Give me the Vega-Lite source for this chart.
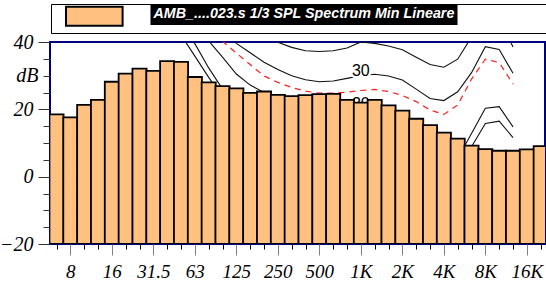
{
  "$schema": "https://vega.github.io/schema/vega-lite/v6.json",
  "width": 495,
  "height": 202,
  "autosize": {"type": "none"},
  "padding": {"left": 50, "top": 42, "right": 1, "bottom": 40},
  "background": "white",
  "config": {
    "view": {"stroke": "#000080", "strokeWidth": 2},
    "axis": {"grid": false, "domain": false}
  },
  "datasets": {
    "bars": [
      {"i": 0, "hz": "6.3", "db": 18.5}, {"i": 1, "hz": "8", "db": 17.6}, {"i": 2, "hz": "10", "db": 21.3},
      {"i": 3, "hz": "12.5", "db": 22.8}, {"i": 4, "hz": "16", "db": 28.2}, {"i": 5, "hz": "20", "db": 30.6},
      {"i": 6, "hz": "25", "db": 32.1}, {"i": 7, "hz": "31.5", "db": 31.4}, {"i": 8, "hz": "40", "db": 34.3},
      {"i": 9, "hz": "50", "db": 34.1}, {"i": 10, "hz": "63", "db": 29.6}, {"i": 11, "hz": "80", "db": 28.0},
      {"i": 12, "hz": "100", "db": 26.9}, {"i": 13, "hz": "125", "db": 26.2}, {"i": 14, "hz": "160", "db": 24.9},
      {"i": 15, "hz": "200", "db": 25.3}, {"i": 16, "hz": "250", "db": 24.3}, {"i": 17, "hz": "315", "db": 23.9},
      {"i": 18, "hz": "400", "db": 24.2}, {"i": 19, "hz": "500", "db": 24.5}, {"i": 20, "hz": "630", "db": 24.6},
      {"i": 21, "hz": "800", "db": 22.8}, {"i": 22, "hz": "1k", "db": 22.0}, {"i": 23, "hz": "1.25k", "db": 22.8},
      {"i": 24, "hz": "1.6k", "db": 21.2}, {"i": 25, "hz": "2k", "db": 19.6}, {"i": 26, "hz": "2.5k", "db": 17.2},
      {"i": 27, "hz": "3.15k", "db": 15.3}, {"i": 28, "hz": "4k", "db": 13.1}, {"i": 29, "hz": "5k", "db": 11.3},
      {"i": 30, "hz": "6.3k", "db": 9.2}, {"i": 31, "hz": "8k", "db": 8.2}, {"i": 32, "hz": "10k", "db": 7.7},
      {"i": 33, "hz": "12.5k", "db": 7.7}, {"i": 34, "hz": "16k", "db": 8.1}, {"i": 35, "hz": "20k", "db": 9.1}
    ],
    "curves": [
      {"c":"A","i":5,"db":90},{"c":"A","i":6,"db":84},{"c":"A","i":7,"db":78},{"c":"A","i":8,"db":72},{"c":"A","i":9,"db":66},{"c":"A","i":10,"db":61},{"c":"A","i":11,"db":56},{"c":"A","i":12,"db":52},{"c":"A","i":13,"db":48.5},{"c":"A","i":14,"db":45.5},{"c":"A","i":15,"db":42.8},{"c":"A","i":16,"db":39.9},{"c":"A","i":17,"db":38.4},{"c":"A","i":18,"db":37.4},{"c":"A","i":19,"db":37.2},{"c":"A","i":20,"db":37.4},{"c":"A","i":21,"db":38.2},{"c":"A","i":22,"db":40.0},{"c":"A","i":23,"db":39.6},{"c":"A","i":24,"db":38.8},{"c":"A","i":25,"db":37.7},{"c":"A","i":26,"db":35.5},{"c":"A","i":27,"db":33.3},{"c":"A","i":28,"db":32.5},{"c":"A","i":29,"db":34.9},{"c":"A","i":30,"db":41.5},{"c":"A","i":31,"db":48},{"c":"A","i":32,"db":47},{"c":"A","i":33,"db":38.5},
      {"c":"B","i":5,"db":85},{"c":"B","i":6,"db":78},{"c":"B","i":7,"db":72},{"c":"B","i":8,"db":65},{"c":"B","i":9,"db":59},{"c":"B","i":10,"db":54},{"c":"B","i":11,"db":49},{"c":"B","i":12,"db":44},{"c":"B","i":13,"db":39.6},{"c":"B","i":14,"db":36.8},{"c":"B","i":15,"db":34.0},{"c":"B","i":16,"db":31.8},{"c":"B","i":17,"db":30.0},{"c":"B","i":18,"db":28.8},{"c":"B","i":19,"db":28.2},{"c":"B","i":20,"db":28.4},{"c":"B","i":21,"db":29.2},{"c":"B","i":22,"db":30.0},{"c":"B","i":23,"db":30.4},{"c":"B","i":24,"db":29.9},{"c":"B","i":25,"db":28.7},{"c":"B","i":26,"db":26.0},{"c":"B","i":27,"db":23.2},{"c":"B","i":28,"db":22.6},{"c":"B","i":29,"db":25.2},{"c":"B","i":30,"db":30.9},{"c":"B","i":31,"db":38.6},{"c":"B","i":32,"db":37.8},{"c":"B","i":33,"db":30.7},
      {"c":"R","i":5,"db":80},{"c":"R","i":6,"db":73},{"c":"R","i":7,"db":67},{"c":"R","i":8,"db":61},{"c":"R","i":9,"db":55},{"c":"R","i":10,"db":50},{"c":"R","i":11,"db":45},{"c":"R","i":12,"db":40.2},{"c":"R","i":13,"db":36.7},{"c":"R","i":14,"db":33.3},{"c":"R","i":15,"db":29.9},{"c":"R","i":16,"db":28.0},{"c":"R","i":17,"db":26.5},{"c":"R","i":18,"db":25.4},{"c":"R","i":19,"db":24.8},{"c":"R","i":20,"db":24.8},{"c":"R","i":21,"db":25.1},{"c":"R","i":22,"db":25.6},{"c":"R","i":23,"db":25.9},{"c":"R","i":24,"db":25.3},{"c":"R","i":25,"db":24.1},{"c":"R","i":26,"db":22.3},{"c":"R","i":27,"db":19.8},{"c":"R","i":28,"db":18.5},{"c":"R","i":29,"db":21.3},{"c":"R","i":30,"db":29.0},{"c":"R","i":31,"db":34.9},{"c":"R","i":32,"db":33.9},{"c":"R","i":33,"db":27.5},
      {"c":"C","i":5,"db":75},{"c":"C","i":6,"db":68},{"c":"C","i":7,"db":61},{"c":"C","i":8,"db":55},{"c":"C","i":9,"db":50},{"c":"C","i":10,"db":45},{"c":"C","i":11,"db":40.3},{"c":"C","i":12,"db":35.5},{"c":"C","i":13,"db":30.5},{"c":"C","i":14,"db":27.2},{"c":"C","i":15,"db":25.0},{"c":"C","i":16,"db":23.3},{"c":"C","i":17,"db":21.8},{"c":"C","i":18,"db":20.8},{"c":"C","i":19,"db":20.2},{"c":"C","i":20,"db":20.0},{"c":"C","i":21,"db":20.0},{"c":"C","i":22,"db":20.0},{"c":"C","i":23,"db":19.5},{"c":"C","i":24,"db":18.0},{"c":"C","i":25,"db":16.0},{"c":"C","i":26,"db":13.0},{"c":"C","i":27,"db":10.0},{"c":"C","i":28,"db":7.5},{"c":"C","i":29,"db":5.5},{"c":"C","i":30,"db":12.8},{"c":"C","i":31,"db":20.3},{"c":"C","i":32,"db":20.8},{"c":"C","i":33,"db":14.8},
      {"c":"D","i":5,"db":70},{"c":"D","i":6,"db":62},{"c":"D","i":7,"db":55},{"c":"D","i":8,"db":49},{"c":"D","i":9,"db":44},{"c":"D","i":10,"db":39.5},{"c":"D","i":11,"db":32.3},{"c":"D","i":12,"db":26.0},{"c":"D","i":13,"db":20},{"c":"D","i":14,"db":16},{"c":"D","i":15,"db":13},{"c":"D","i":16,"db":11.5},{"c":"D","i":17,"db":10.5},{"c":"D","i":18,"db":10},{"c":"D","i":19,"db":10},{"c":"D","i":20,"db":10},{"c":"D","i":21,"db":10},{"c":"D","i":22,"db":10},{"c":"D","i":23,"db":9.5},{"c":"D","i":24,"db":8.5},{"c":"D","i":25,"db":7},{"c":"D","i":26,"db":5},{"c":"D","i":27,"db":3},{"c":"D","i":28,"db":2},{"c":"D","i":29,"db":2.5},{"c":"D","i":30,"db":8.9},{"c":"D","i":31,"db":15.8},{"c":"D","i":32,"db":16.5},{"c":"D","i":33,"db":11.6},
      {"c":"E","i":5,"db":66},{"c":"E","i":6,"db":58},{"c":"E","i":7,"db":51},{"c":"E","i":8,"db":46},{"c":"E","i":9,"db":42.1},{"c":"E","i":10,"db":35.8},{"c":"E","i":11,"db":29.5},{"c":"E","i":12,"db":23.5},{"c":"E","i":13,"db":18},{"c":"E","i":14,"db":13},{"c":"E","i":15,"db":9},{"c":"E","i":16,"db":6},{"c":"E","i":17,"db":4},{"c":"E","i":18,"db":2.5},{"c":"E","i":19,"db":1.5},{"c":"E","i":20,"db":1},{"c":"E","i":21,"db":0.5},{"c":"E","i":22,"db":0},{"c":"E","i":23,"db":-0.5},{"c":"E","i":24,"db":-1},{"c":"E","i":25,"db":-2},{"c":"E","i":26,"db":-3},{"c":"E","i":27,"db":-4},{"c":"E","i":28,"db":-4},{"c":"E","i":29,"db":-2},{"c":"E","i":30,"db":3},{"c":"E","i":31,"db":7},{"c":"E","i":32,"db":7},{"c":"E","i":33,"db":6}
    ],
    "labels": [
      {"i": 22, "db": 30, "t": "30"},
      {"i": 22, "db": 20, "t": "20"}
    ]
  },
  "encoding": {
    "x": {
      "field": "i", "type": "quantitative",
      "scale": {"domain": [-0.11, 34.95], "nice": false, "zero": false},
      "axis": {
        "title": null,
        "values": [0,1,2,3,4,5,6,7,8,9,10,11,12,13,14,15,16,17,18,19,20,21,22,23,24,25,26,27,28,29,30,31,32,33,34,35],
        "tickSize": {"condition": {"test": "datum.value % 3 == 1", "value": 11}, "value": 5},
        "tickColor": {"condition": {"test": "datum.value % 3 == 1", "value": "#808080"}, "value": "#000000"},
        "tickWidth": 1,
        "labelExpr": "['','8','','','16','','','31.5','','','63','','','125','','','250','','','500','','','1K','','','2K','','','4K','','','8K','','','16K',''][datum.value]",
        "labelFont": "Liberation Serif", "labelFontStyle": "italic", "labelFontSize": 19, "labelColor": "black",
        "labelPadding": 7, "labelOverlap": false, "labelFlush": false, "labelBound": false, "labelBaseline": "top"
      }
    },
    "y": {
      "field": "db", "type": "quantitative",
      "scale": {"domain": [-20, 40], "nice": false, "zero": false},
      "axis": {
        "title": null,
        "values": [-20,-15,-10,-5,0,5,10,15,20,25,30,35,40],
        "tickSize": {"condition": {"test": "datum.value % 20 == 0", "value": 12}, "value": 7},
        "tickColor": "#333333", "tickWidth": 1,
        "labelExpr": "datum.value == 30 ? 'dB' : (datum.value % 20 == 0 ? datum.label : '')",
        "labelFont": "Liberation Serif", "labelFontStyle": "italic", "labelFontSize": 20, "labelColor": "black",
        "labelPadding": 5, "labelOverlap": false, "labelFlush": false, "labelBound": false
      }
    }
  },
  "layer": [
    {
      "data": {"name": "curves"},
      "transform": [{"filter": "datum.c != 'R'"}],
      "mark": {"type": "line", "stroke": "#111111", "strokeWidth": 1.1, "clip": true},
      "encoding": {"detail": {"field": "c", "type": "nominal"}}
    },
    {
      "data": {"name": "curves"},
      "transform": [{"filter": "datum.c == 'R'"}],
      "mark": {"type": "line", "stroke": "#FF2020", "strokeWidth": 1.2, "strokeDash": [6, 5], "clip": true},
      "encoding": {"detail": {"field": "c", "type": "nominal"}}
    },
    {
      "data": {"name": "labels"},
      "mark": {"type": "text", "font": "Liberation Sans", "fontSize": 16, "baseline": "alphabetic", "align": "center", "fill": "white", "stroke": "white", "strokeWidth": 5, "strokeJoin": "round", "clip": true},
      "encoding": {"text": {"field": "t"}}
    },
    {
      "data": {"name": "labels"},
      "mark": {"type": "text", "font": "Liberation Sans", "fontSize": 16, "baseline": "alphabetic", "align": "center", "fill": "black", "clip": true},
      "encoding": {"text": {"field": "t"}}
    },
    {
      "data": {"name": "bars"},
      "mark": {"type": "bar", "orient": "vertical", "width": 14.12, "strokeWidth": 1.8, "clip": true},
      "encoding": {
        "y2": {"datum": -20},
        "fill": {
          "datum": "AMB",
          "type": "nominal",
          "scale": {"range": ["#FFC080"]},
          "legend": {
            "orient": "none", "legendX": 1, "legendY": -38, "title": null, "padding": 0,
            "fillColor": "white", "strokeColor": "black",
            "symbolType": "M520,19.5M10,-2.3H66.6V16.7H10Z",
            "symbolSize": 4, "symbolStrokeColor": "black", "symbolStrokeWidth": 2, "symbolOpacity": 1,
            "labelFontSize": 10, "labelExpr": "''", "zindex": 1
          }
        },
        "stroke": {
          "datum": "AMB_....023.s 1/3 SPL Spectrum Min Lineare",
          "type": "nominal",
          "scale": {"range": ["#000000"]},
          "legend": {
            "orient": "none", "legendX": 100.5, "legendY": -37, "title": null, "padding": 2.3,
            "fillColor": "black",
            "symbolSize": 1, "symbolOpacity": 0, "symbolStrokeWidth": 0, "labelOffset": -13.6,
            "labelColor": "white", "labelFont": "Liberation Sans", "labelFontSize": 14.3,
            "labelFontStyle": "italic", "labelFontWeight": "bold", "labelLimit": 500, "zindex": 2
          }
        }
      }
    }
  ]
}
